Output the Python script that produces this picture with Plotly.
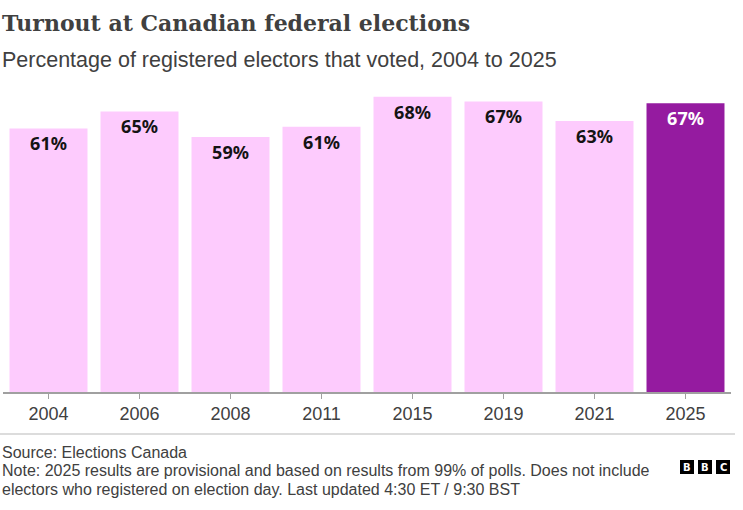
import plotly.graph_objects as go

years = ["2004", "2006", "2008", "2011", "2015", "2019", "2021", "2025"]
turnout = [60.7, 64.6, 58.7, 61.1, 68.0, 66.9, 62.4, 66.5]
labels = ["61%", "65%", "59%", "61%", "68%", "67%", "63%", "67%"]
bar_colors = ["#fdcbfd"] * 7 + ["#951ba0"]
label_colors = ["#141414"] * 7 + ["#ffffff"]

W, H = 743, 510
L, R, T, B = 3, 731, 88, 392  # plot area in px


def px(x):
    return (x - L) / (R - L)


def py(y):
    return (B - y) / (B - T)


fig = go.Figure()
fig.add_trace(go.Bar(
    x=years, y=turnout,
    marker=dict(color=bar_colors, line=dict(width=0)),
    text=labels, textposition="inside", insidetextanchor="end", textangle=0,
    textfont=dict(family="Noto Sans", size=18, color=label_colors, weight="bold"),
    hoverinfo="skip",
))

fig.update_layout(
    width=W, height=H,
    margin=dict(l=L, r=W - R, t=T, b=H - B),
    paper_bgcolor="white", plot_bgcolor="white",
    bargap=0.143, showlegend=False,
    font=dict(family="Liberation Sans", color="#404040"),
    xaxis=dict(showline=True, linecolor="#a0a0a0", linewidth=1.5, ticks="outside",
               ticklen=5, tickcolor="#a0a0a0", tickfont=dict(size=18, color="#404040"),
               showgrid=False, fixedrange=True),
    yaxis=dict(range=[0, 70], visible=False, showgrid=False, fixedrange=True),
)

ann = [
    dict(text="Turnout at Canadian federal elections", x=px(0), y=py(23),
         font=dict(family="DejaVu Serif", size=22, color="#404040", weight="bold")),
    dict(text="Percentage of registered electors that voted, 2004 to 2025", x=px(0), y=py(60),
         font=dict(family="Liberation Sans", size=21.5, color="#404040")),
    dict(text="Source: Elections Canada", x=px(0), y=py(452),
         font=dict(family="Liberation Sans", size=16, color="#404040")),
    dict(text="Note: 2025 results are provisional and based on results from 99% of polls. Does not include",
         x=px(0), y=py(470), font=dict(family="Liberation Sans", size=16, color="#404040")),
    dict(text="electors who registered on election day. Last updated 4:30 ET / 9:30 BST",
         x=px(0), y=py(489), font=dict(family="Liberation Sans", size=16, color="#404040")),
]
for a in ann:
    fig.add_annotation(xref="paper", yref="paper", xanchor="left", yanchor="middle",
                       showarrow=False, **a)

shapes = [dict(type="line", xref="paper", yref="paper", x0=px(0), x1=px(735),
               y0=py(434), y1=py(434), line=dict(color="#d0d0d0", width=1.5))]
for i, letter in enumerate("BBC"):
    x0 = 680 + i * 18
    shapes.append(dict(type="rect", xref="paper", yref="paper", x0=px(x0), x1=px(x0 + 14),
                       y0=py(460), y1=py(474), fillcolor="black", line=dict(width=0)))
    fig.add_annotation(xref="paper", yref="paper", x=px(x0 + 7), y=py(467), showarrow=False,
                       text=letter, xanchor="center", yanchor="middle",
                       font=dict(family="DejaVu Sans", size=10, color="white", weight="bold"))
fig.update_layout(shapes=shapes)

fig.write_html("out.html")
